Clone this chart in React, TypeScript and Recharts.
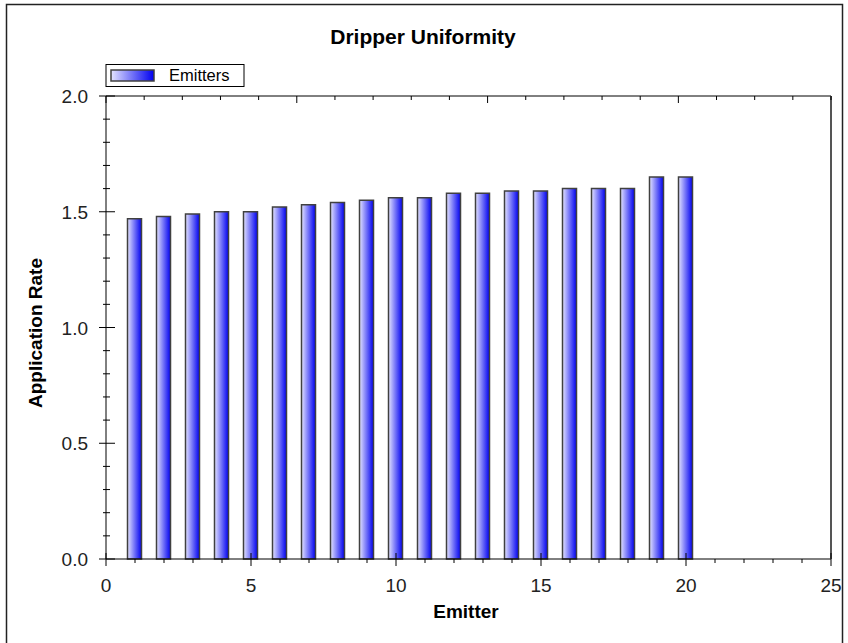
import { Bar, BarChart, XAxis, YAxis } from 'recharts';

const emitters = [1, 2, 3, 4, 5, 6, 7, 8, 9, 10, 11, 12, 13, 14, 15, 16, 17, 18, 19, 20];
const rates = [1.47, 1.48, 1.49, 1.5, 1.5, 1.52, 1.53, 1.54, 1.55, 1.56, 1.56, 1.58, 1.58, 1.59, 1.59, 1.6, 1.6, 1.6, 1.65, 1.65];
const seriesName = 'Emitters';

const xTicks = [0, 1, 2, 3, 4, 5, 6, 7, 8, 9, 10, 11, 12, 13, 14, 15, 16, 17, 18, 19, 20, 21, 22, 23, 24, 25];
const yTicks = [0, 0.1, 0.2, 0.3, 0.4, 0.5, 0.6, 0.7, 0.8, 0.9, 1.0, 1.1, 1.2, 1.3, 1.4, 1.5, 1.6, 1.7, 1.8, 1.9, 2.0];

const data = emitters.map((e, i) => ({ emitter: e, rate: rates[i] }));

const FONT = '"Liberation Sans", Arial, sans-serif';

const isMajorX = (v: number) => v % 5 === 0;
const isMajorY = (v: number) => Math.abs(v * 2 - Math.round(v * 2)) < 1e-6;

function BottomTick({ x, y, payload }: any) {
    const v = payload.value;
    const major = isMajorX(v);
    return (
        <g>
            <line x1={x} x2={x} y1={major ? y - 6 : y} y2={major ? y + 7 : y + 4} stroke="#000" />
            {major && (
                <text x={x} y={y + 33} textAnchor="middle" fontSize={19} fontFamily={FONT} fill="#222">
                    {v}
                </text>
            )}
        </g>
    );
}

function TopTick({ x, y, payload }: any) {
    const major = isMajorX(payload.value);
    return <line x1={x} x2={x} y1={y} y2={y + (major ? 7 : 4)} stroke="#000" />;
}

function LeftTick({ x, y, payload }: any) {
    const v = payload.value;
    const major = isMajorY(v);
    return (
        <g>
            <line x1={major ? x - 7 : x - 3} x2={major ? x + 9 : x + 4} y1={y} y2={y} stroke="#000" />
            {major && (
                <text x={x - 18} y={y + 7} textAnchor="end" fontSize={19} fontFamily={FONT} fill="#222">
                    {v.toFixed(1)}
                </text>
            )}
        </g>
    );
}

function RightTick({ x, y, payload }: any) {
    const major = isMajorY(payload.value);
    return <line x1={x - (major ? 7 : 4)} x2={x} y1={y} y2={y} stroke="#000" />;
}

export default function App() {
    return (
        <div style={{ position: 'absolute', left: 0, top: 0, width: 848, height: 643, overflow: 'hidden', background: '#fff' }}>
            <BarChart
                width={848}
                height={643}
                data={data}
                margin={{ top: 95, right: 16, bottom: 54, left: 46 }}
            >
                <defs>
                    <linearGradient id="barGrad" x1="0" y1="0" x2="1" y2="0">
                        <stop offset="0%" stopColor="#e4e4ff" />
                        <stop offset="100%" stopColor="#0000f0" />
                    </linearGradient>
                </defs>
                <Bar
                    xAxisId="bottom"
                    yAxisId="left"
                    dataKey="rate"
                    name={seriesName}
                    barSize={14}
                    fill="url(#barGrad)"
                    stroke="#404040"
                    strokeWidth={1.5}
                    isAnimationActive={false}
                />
                <XAxis
                    xAxisId="bottom"
                    dataKey="emitter"
                    type="number"
                    domain={[0, 25]}
                    ticks={xTicks}
                    interval={0}
                    height={30}
                    tickSize={0}
                    tickMargin={0}
                    tick={<BottomTick />}
                    axisLine={{ stroke: '#000' }}
                />
                <XAxis
                    xAxisId="top"
                    orientation="top"
                    type="number"
                    domain={[0, 25]}
                    ticks={xTicks}
                    interval={0}
                    height={1}
                    tickSize={0}
                    tickMargin={0}
                    tick={<TopTick />}
                    axisLine={{ stroke: '#000' }}
                />
                <YAxis
                    yAxisId="left"
                    type="number"
                    domain={[0, 2]}
                    ticks={yTicks}
                    interval={0}
                    width={60}
                    tickSize={0}
                    tickMargin={0}
                    tick={<LeftTick />}
                    axisLine={{ stroke: '#000' }}
                />
                <YAxis
                    yAxisId="right"
                    orientation="right"
                    type="number"
                    domain={[0, 2]}
                    ticks={yTicks}
                    interval={0}
                    width={1}
                    tickSize={0}
                    tickMargin={0}
                    tick={<RightTick />}
                    axisLine={{ stroke: '#555', strokeWidth: 2 }}
                />
            </BarChart>
            <svg
                width={848}
                height={643}
                style={{ position: 'absolute', left: 0, top: 0, pointerEvents: 'none' }}
            >
                <defs>
                    <linearGradient id="legendGrad" x1="0" y1="0" x2="1" y2="0">
                        <stop offset="0%" stopColor="#e4e4ff" />
                        <stop offset="100%" stopColor="#0000f0" />
                    </linearGradient>
                </defs>
                <rect x={6.5} y={4.5} width={836} height={700} fill="none" stroke="#222" strokeWidth={1.5} />
                <text x={423} y={44} textAnchor="middle" fontSize={21} fontWeight="bold" fontFamily={FONT} fill="#000">
                    Dripper Uniformity
                </text>
                <rect x={106} y={64.5} width={138} height={22} fill="#fff" stroke="#000" />
                <rect x={111} y={70} width={43} height={11} fill="url(#legendGrad)" stroke="#404040" strokeWidth={1.5} />
                <text x={169} y={81} fontSize={16.5} fontFamily={FONT} fill="#000">
                    {seriesName}
                </text>
                <text
                    x={0}
                    y={0}
                    transform="translate(42 333) rotate(-90)"
                    textAnchor="middle"
                    fontSize={19}
                    fontWeight="bold"
                    fontFamily={FONT}
                    fill="#000"
                >
                    Application Rate
                </text>
                <text x={466} y={618} textAnchor="middle" fontSize={19} fontWeight="bold" fontFamily={FONT} fill="#000">
                    Emitter
                </text>
            </svg>
        </div>
    );
}
